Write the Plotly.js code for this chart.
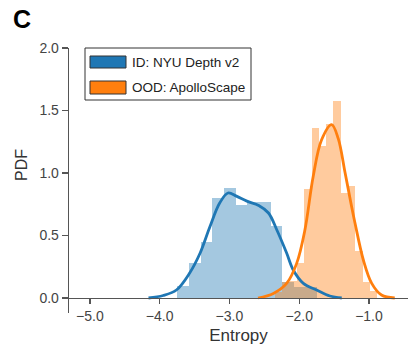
<!DOCTYPE html>
<html>
<head>
<meta charset="utf-8">
<script src="https://cdn.plot.ly/plotly-3.0.1.min.js"></script>
<style>html,body{margin:0;padding:0;background:#fff;}#chart{width:409px;height:348px;}</style>
</head>
<body>
<div id="chart"></div>
<script>
// Histogram of ID entropies (NYU Depth v2): bin centers and densities
const idBinCenters = [-3.663, -3.496, -3.329, -3.162, -2.995, -2.828, -2.661, -2.494, -2.327, -2.160, -1.993, -1.826];
const idBinHeights = [0.10, 0.28, 0.45, 0.80, 0.88, 0.745, 0.77, 0.77, 0.58, 0.13, 0.09, 0.09];
const idBinWidth = 0.167;

// Histogram of OOD entropies (ApolloScape)
const oodBinCenters = [-2.296, -2.191, -2.086, -1.981, -1.876, -1.771, -1.666, -1.561, -1.456, -1.351, -1.246, -1.141, -1.036, -0.931];
const oodBinHeights = [0.05, 0.13, 0.14, 0.28, 0.87, 1.36, 1.22, 1.39, 1.58, 0.84, 0.90, 0.38, 0.13, 0.06];
const oodBinWidth = 0.105;

// KDE curves
const idKdeX = [-4.16, -3.95, -3.76, -3.57, -3.42, -3.28, -3.14, -3.02, -2.90, -2.75, -2.58, -2.44, -2.32, -2.18, -2.085, -1.94, -1.75, -1.56, -1.39];
const idKdeY = [0.0, 0.02, 0.064, 0.20, 0.36, 0.57, 0.76, 0.84, 0.815, 0.775, 0.74, 0.68, 0.544, 0.36, 0.224, 0.117, 0.064, 0.016, 0.0];
const oodKdeX = [-2.59, -2.37, -2.18, -2.036, -1.918, -1.80, -1.68, -1.535, -1.44, -1.344, -1.248, -1.20, -1.08, -0.96, -0.82, -0.63];
const oodKdeY = [0.0, 0.037, 0.117, 0.277, 0.544, 0.97, 1.264, 1.387, 1.275, 1.008, 0.73, 0.60, 0.304, 0.117, 0.024, 0.0];

const seriesNames = ["ID: NYU Depth v2", "OOD: ApolloScape"];
const xTickVals = [-5, -4, -3, -2, -1];
const yTickVals = [0, 0.5, 1.0, 1.5, 2.0];

const blue = "#1f77b4", orange = "#ff7f0e";
const font = "Liberation Sans, Arial, sans-serif";

const traces = [
  {type: "bar", x: idBinCenters, y: idBinHeights, width: idBinWidth, opacity: 0.4,
   marker: {color: blue, line: {width: 0}}, hoverinfo: "skip", showlegend: false},
  {type: "bar", x: oodBinCenters, y: oodBinHeights, width: oodBinWidth, opacity: 0.4,
   marker: {color: orange, line: {width: 0}}, hoverinfo: "skip", showlegend: false},
  {type: "scatter", mode: "lines", x: idKdeX, y: idKdeY, name: seriesNames[0],
   line: {color: blue, width: 2.8, shape: "spline", smoothing: 1}, showlegend: false},
  {type: "scatter", mode: "lines", x: oodKdeX, y: oodKdeY, name: seriesNames[1],
   line: {color: orange, width: 2.8, shape: "spline", smoothing: 1}, showlegend: false}
];

// pixel -> paper helpers for the drawn legend
const L = 69, R = 1, T = 48, B = 35, W = 409, H = 348;
const pw = W - L - R, ph = H - T - B;
const px = v => (v - L) / pw;
const py = v => (H - B - v) / ph;

const shapes = [
  {type: "rect", xref: "paper", yref: "paper", x0: px(85), x1: px(251), y0: py(100), y1: py(48),
   line: {color: "#333", width: 1}, fillcolor: "rgba(255,255,255,0.9)"},
  {type: "rect", xref: "paper", yref: "paper", x0: px(90), x1: px(126), y0: py(68), y1: py(56),
   line: {color: "#333", width: 1}, fillcolor: blue},
  {type: "rect", xref: "paper", yref: "paper", x0: px(90), x1: px(126), y0: py(94), y1: py(81),
   line: {color: "#333", width: 1}, fillcolor: orange}
];

const annotations = [
  {xref: "paper", yref: "paper", x: px(130), y: py(62), xanchor: "left", yanchor: "middle",
   text: seriesNames[0], showarrow: false, font: {family: font, size: 13.5, color: "#222"}},
  {xref: "paper", yref: "paper", x: px(130), y: py(87.5), xanchor: "left", yanchor: "middle",
   text: seriesNames[1], showarrow: false, font: {family: font, size: 13.5, color: "#222"}},
  {xref: "paper", yref: "paper", x: px(11), y: py(19), xanchor: "left", yanchor: "middle",
   text: "<b>C</b>", showarrow: false, font: {family: font, size: 25, color: "#000"}},
  {xref: "paper", yref: "paper", x: px(21), y: py(165), xanchor: "center", yanchor: "middle",
   text: "PDF", textangle: -90, showarrow: false, font: {family: font, size: 16, color: "#333"}}
];

const layout = {
  width: W, height: H,
  margin: {l: L, r: R, t: T, b: B},
  paper_bgcolor: "#fff", plot_bgcolor: "#fff",
  barmode: "overlay", bargap: 0,
  showlegend: false,
  font: {family: font, color: "#333"},
  xaxis: {
    range: [-5.3, -0.44], anchor: "free", position: 15 / ph,
    showgrid: false, zeroline: false, showline: true, linecolor: "#555", linewidth: 1.3,
    ticks: "outside", ticklen: 5, tickcolor: "#555", tickwidth: 1.3,
    tickvals: xTickVals, tickformat: ".1f",
    tickfont: {family: font, size: 14, color: "#444"},
    title: {text: "Entropy", font: {family: font, size: 17, color: "#333"}, standoff: 6}
  },
  yaxis: {
    range: [-0.12, 2.0],
    showgrid: false, zeroline: false, showline: true, linecolor: "#555", linewidth: 1.3,
    ticks: "outside", ticklen: 6, tickcolor: "#555", tickwidth: 1.3,
    tickvals: yTickVals, tickformat: ".1f",
    tickfont: {family: font, size: 14, color: "#444"}
  },
  shapes: shapes,
  annotations: annotations
};

Plotly.newPlot("chart", traces, layout, {staticPlot: true, displayModeBar: false});
</script>
</body>
</html>
